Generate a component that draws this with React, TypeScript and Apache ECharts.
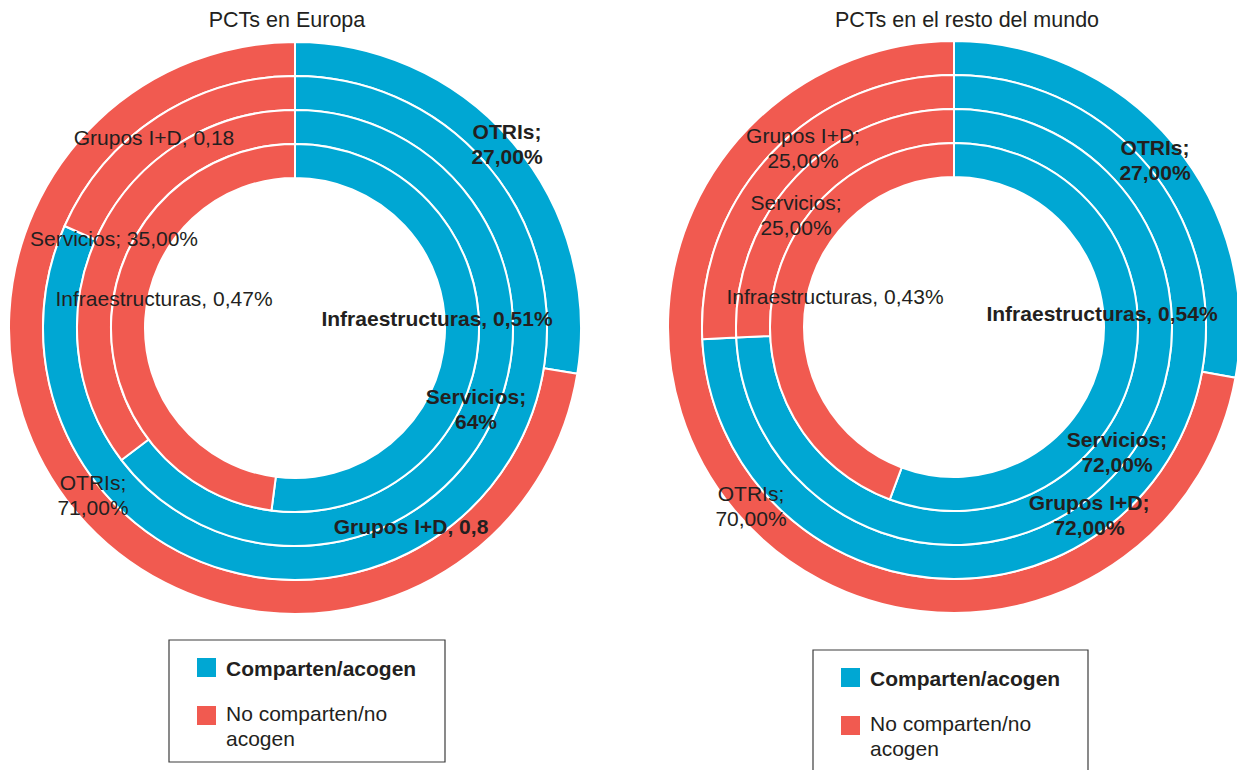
import React, { useEffect, useRef } from "react";
import * as echarts from "echarts";

// ---- Data ----
const categories = ["OTRIs", "Grupos I+D", "Servicios", "Infraestructuras"];
const seriesNames = ["Comparten/acogen", "No comparten/no acogen"];
const chartTitles = ["PCTs en Europa", "PCTs en el resto del mundo"];

const europaComparten = [27, 0.8, 64, 0.51];
const europaNoComparten = [71, 0.18, 35, 0.47];
const mundoComparten = [27, 72, 72, 0.54];
const mundoNoComparten = [70, 25, 25, 0.43];

const europaLabelsComparten = ["OTRIs;\n27,00%", "Grupos I+D, 0,8", "Servicios;\n64%", "Infraestructuras, 0,51%"];
const europaLabelsNo = ["OTRIs;\n71,00%", "Grupos I+D, 0,18", "Servicios; 35,00%", "Infraestructuras, 0,47%"];
const mundoLabelsComparten = ["OTRIs;\n27,00%", "Grupos I+D;\n72,00%", "Servicios;\n72,00%", "Infraestructuras, 0,54%"];
const mundoLabelsNo = ["OTRIs;\n70,00%", "Grupos I+D;\n25,00%", "Servicios;\n25,00%", "Infraestructuras, 0,43%"];

// ---- Layout (positions / styles) ----
const BLUE = "#00A7D3";
const RED = "#F15A50";
const TEXT = "#231F20";
const FONT = "'Liberation Sans', Arial, Helvetica, sans-serif";

const ringRadii = [
  [252, 286],
  [218, 252],
  [184, 218],
  [150, 184],
];

const charts = [
  {
    center: [295, 328],
    titleX: 287,
    comp: europaComparten,
    no: europaNoComparten,
    labelsComp: europaLabelsComparten,
    labelsNo: europaLabelsNo,
    posComp: [[507, 144], [411, 526], [476, 409], [437, 318]],
    posNo: [[93, 495], [154, 137], [114, 238], [164, 298]],
    legend: { x: 169, y: 640, w: 276, h: 122 },
  },
  {
    center: [954, 327],
    titleX: 967,
    comp: mundoComparten,
    no: mundoNoComparten,
    labelsComp: mundoLabelsComparten,
    labelsNo: mundoLabelsNo,
    posComp: [[1155, 160], [1089, 515], [1117, 452], [1102, 313]],
    posNo: [[751, 506], [803, 148], [796, 215], [835, 296]],
    legend: { x: 813, y: 650, w: 275, h: 130 },
  },
];

function buildOption() {
  const series: any[] = [];
  charts.forEach((c, ci) => {
    categories.forEach((cat, ri) => {
      const labels = [c.labelsComp[ri], c.labelsNo[ri]];
      const pos = [c.posComp[ri], c.posNo[ri]];
      series.push({
        type: "pie",
        name: `${chartTitles[ci]} - ${cat}`,
        radius: ringRadii[ri],
        center: c.center,
        startAngle: 90,
        clockwise: true,
        avoidLabelOverlap: false,
        silent: true,
        emphasis: { disabled: true },
        itemStyle: { borderColor: "#ffffff", borderWidth: 2 },
        label: {
          show: true,
          position: "inside",
          formatter: (p: any) => labels[p.dataIndex],
          fontSize: 21,
          lineHeight: 25,
          fontFamily: FONT,
          color: TEXT,
        },
        labelLine: { show: false },
        labelLayout: (p: any) => ({
          x: pos[p.dataIndex][0],
          y: pos[p.dataIndex][1],
          align: "center",
          verticalAlign: "middle",
        }),
        data: [
          { name: seriesNames[0], value: c.comp[ri], itemStyle: { color: BLUE }, label: { fontWeight: "bold" } },
          { name: seriesNames[1], value: c.no[ri], itemStyle: { color: RED }, label: { fontWeight: "normal" } },
        ],
      });
    });
  });

  const graphics: any[] = [];
  charts.forEach((c) => {
    const L = c.legend;
    graphics.push({
      type: "rect",
      shape: { x: L.x, y: L.y, width: L.w, height: L.h },
      style: { fill: "none", stroke: "#3C3C3C", lineWidth: 1.2 },
      silent: true,
    });
    graphics.push({
      type: "rect",
      shape: { x: L.x + 28, y: L.y + 18, width: 19, height: 19 },
      style: { fill: BLUE },
    });
    graphics.push({
      type: "text",
      x: L.x + 57,
      y: L.y + 28,
      style: {
        text: seriesNames[0],
        fill: TEXT,
        font: `bold 21px ${FONT}`,
        verticalAlign: "middle",
        align: "left",
      },
    });
    graphics.push({
      type: "rect",
      shape: { x: L.x + 28, y: L.y + 66, width: 19, height: 19 },
      style: { fill: RED },
    });
    graphics.push({
      type: "text",
      x: L.x + 57,
      y: L.y + 61,
      style: {
        text: "No comparten/no\nacogen",
        fill: TEXT,
        font: `21px ${FONT}`,
        lineHeight: 25,
        verticalAlign: "top",
        align: "left",
      },
    });
  });

  return {
    animation: false,
    backgroundColor: "#ffffff",
    title: charts.map((c, i) => ({
      text: chartTitles[i],
      left: c.titleX,
      top: 9,
      textAlign: "center",
      padding: 0,
      textStyle: { fontSize: 21.5, fontWeight: "normal", color: TEXT, fontFamily: FONT },
    })),
    series,
    graphic: graphics,
  };
}

export default function App() {
  const ref = useRef<HTMLDivElement>(null);
  useEffect(() => {
    if (!ref.current) return;
    const chart = echarts.init(ref.current, undefined, { renderer: "svg" });
    chart.setOption(buildOption() as any);
    return () => chart.dispose();
  }, []);
  return (
    <div
      ref={ref}
      style={{ position: "fixed", left: 0, top: 0, width: 1237, height: 770, background: "#fff" }}
    />
  );
}
